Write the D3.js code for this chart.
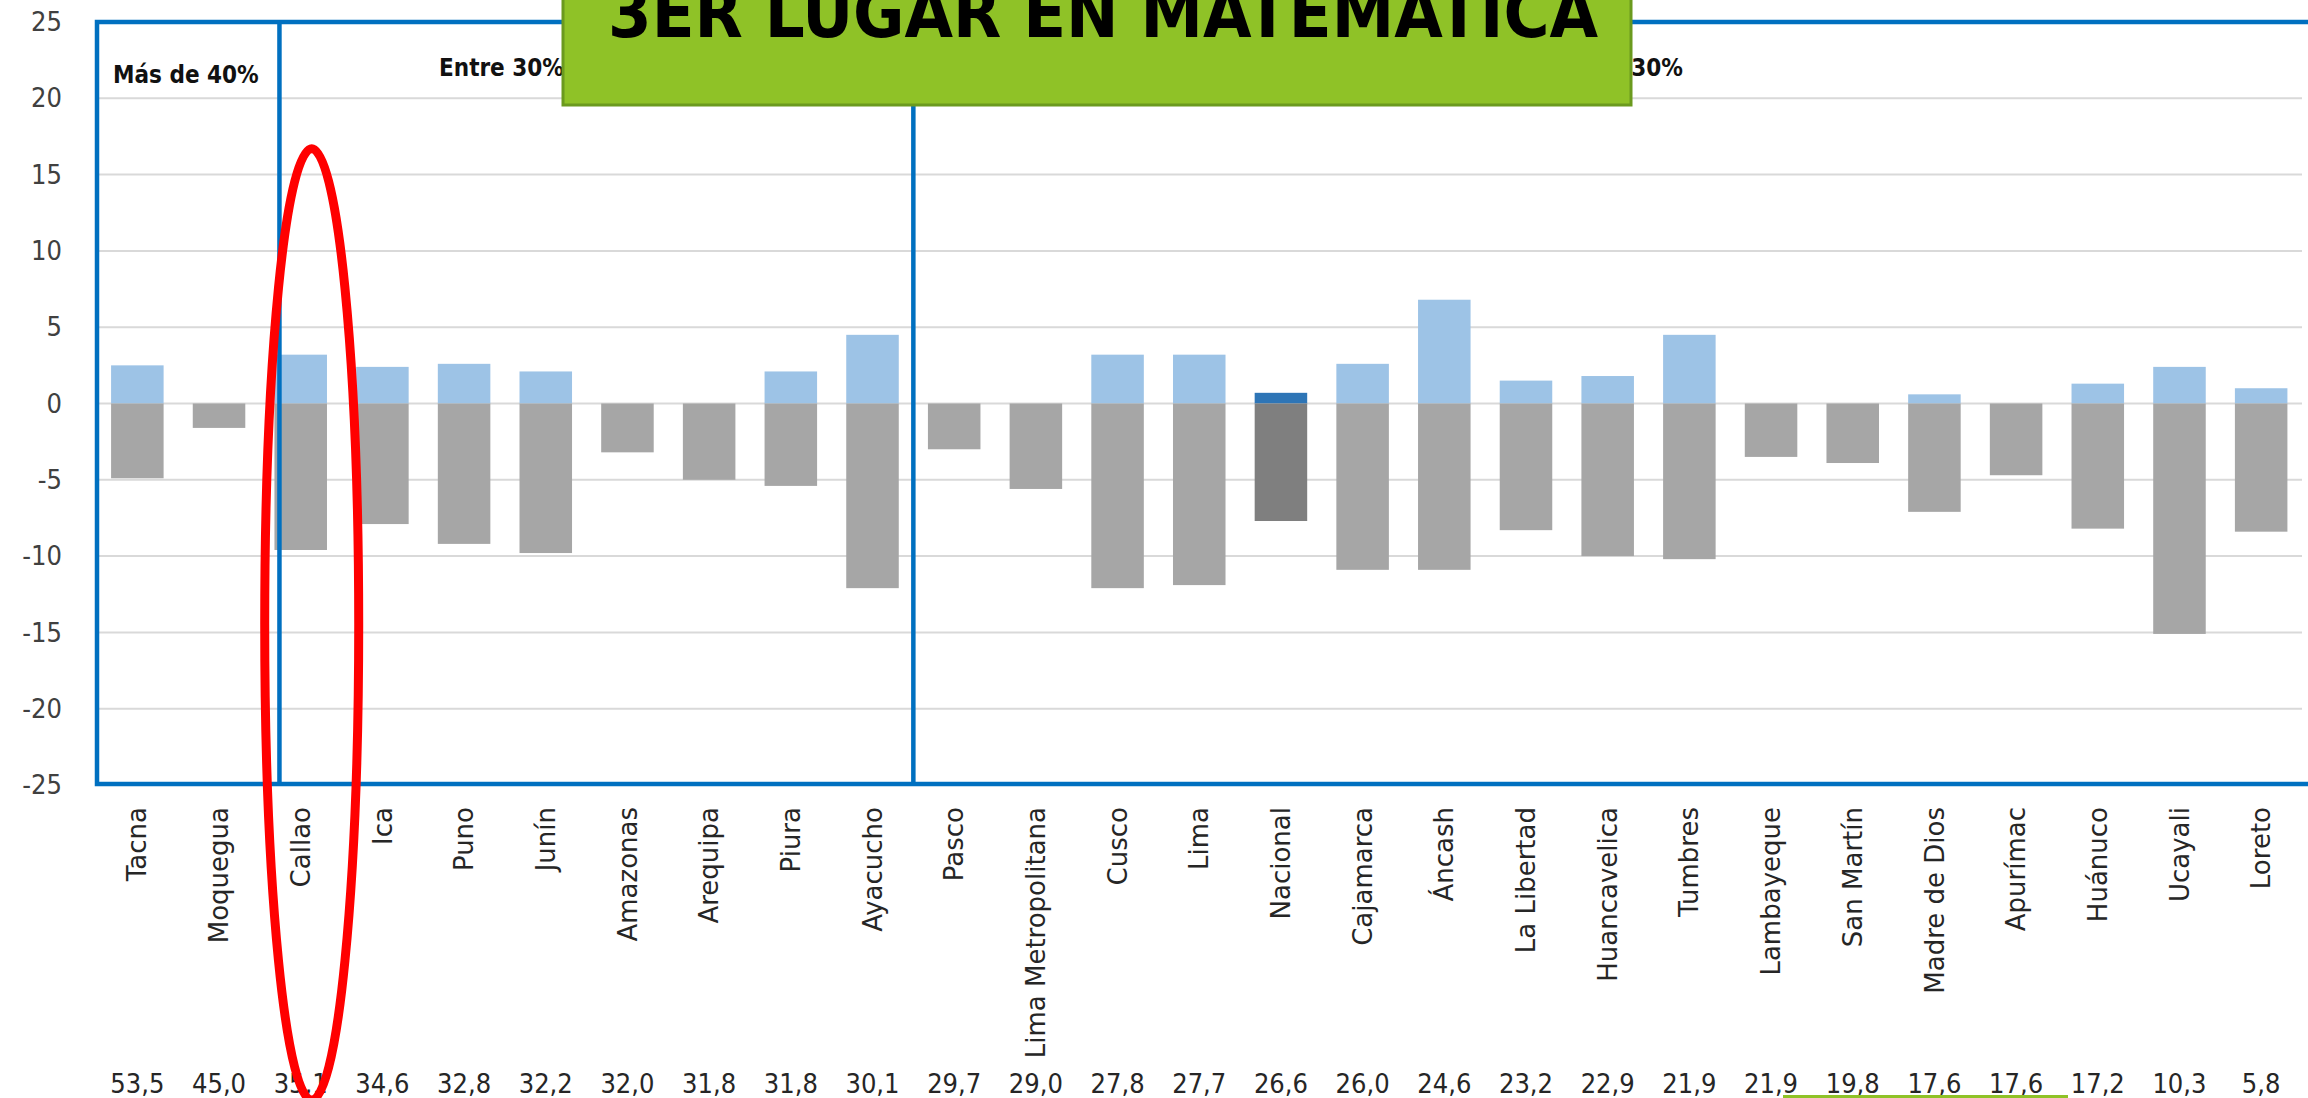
<!DOCTYPE html>
<html>
<head>
<meta charset="utf-8">
<script src="https://cdn.jsdelivr.net/npm/d3@7"></script>
<style>
  html, body { margin: 0; padding: 0; background: #fff; }
  svg { display: block; }
  .cond { font-family: "DejaVu Sans Condensed", "DejaVu Sans", sans-serif; font-stretch: condensed; }
</style>
</head>
<body>
<div id="chart"></div>
<script>
// regions in ranking order
var regions = ["Tacna", "Moquegua", "Callao", "Ica", "Puno", "Junín", "Amazonas", "Arequipa", "Piura",
    "Ayacucho", "Pasco", "Lima Metropolitana", "Cusco", "Lima", "Nacional", "Cajamarca", "Áncash",
    "La Libertad", "Huancavelica", "Tumbres", "Lambayeque", "San Martín", "Madre de Dios", "Apurímac",
    "Huánuco", "Ucayali", "Loreto"];

// change in the top level (light blue, above zero)
var upValues = [2.5, 0, 3.2, 2.4, 2.6, 2.1, 0, 0, 2.1, 4.5, 0, 0, 3.2, 3.2, 0.7, 2.6, 6.8,
    1.5, 1.8, 4.5, 0, 0, 0.6, 0, 1.3, 2.4, 1.0];

// change in the bottom level (gray, below zero)
var downValues = [-4.9, -1.6, -9.6, -7.9, -9.2, -9.8, -3.2, -5.0, -5.4, -12.1, -3.0, -5.6, -12.1,
    -11.9, -7.7, -10.9, -10.9, -8.3, -10.0, -10.2, -3.5, -3.9, -7.1, -4.7, -8.2, -15.1, -8.4];

// percentage at satisfactory level, printed under each region
var pctLabels = ["53,5", "45,0", "35,1", "34,6", "32,8", "32,2", "32,0", "31,8", "31,8", "30,1",
    "29,7", "29,0", "27,8", "27,7", "26,6", "26,0", "24,6", "23,2", "22,9", "21,9", "21,9",
    "19,8", "17,6", "17,6", "17,2", "10,3", "5,8"];

var yTicks = [25, 20, 15, 10, 5, 0, -5, -10, -15, -20, -25];
var groupLabels = ["Más de 40%", "Entre 30% y 40%", "Menos de 30%"];
var titleText = "3ER  LUGAR EN MATEMÁTICA";
var highlight = "Nacional";

var W = 2308, H = 1098;

var svg = d3.select("#chart").append("svg")
    .attr("width", W)
    .attr("height", H);

var xScale = d3.scaleBand()
    .domain(regions)
    .range([96.5, 2302])
    .paddingInner(0.357)
    .paddingOuter(0.1785);

var yScale = d3.scaleLinear()
    .domain([-25, 25])
    .range([785, 22]);

var left = 97, right = 2302;

// gridlines
svg.append("g")
    .selectAll("line")
    .data(yTicks)
    .enter().append("line")
    .attr("x1", left)
    .attr("x2", right)
    .attr("y1", function (d) { return yScale(d); })
    .attr("y2", function (d) { return yScale(d); })
    .attr("stroke", "#d9d9d9")
    .attr("stroke-width", 2);

// y axis labels (no axis line), plain hyphen for negatives
var yAxis = d3.axisLeft(yScale)
    .tickValues(yTicks)
    .tickSize(0)
    .tickPadding(0)
    .tickFormat(function (d) { return String(d); });
var yg = svg.append("g")
    .attr("transform", "translate(62,0)")
    .call(yAxis);
yg.select(".domain").remove();
yg.selectAll("text")
    .attr("class", "cond")
    .style("font-size", "27px")
    .attr("fill", "#404040");

// bars
var bw = xScale.bandwidth();
var barData = regions.map(function (r, i) {
    return {name: r, up: upValues[i], down: downValues[i]};
});

svg.append("g").selectAll("rect")
    .data(barData.filter(function (d) { return d.up > 0; }))
    .enter().append("rect")
    .attr("x", function (d) { return xScale(d.name); })
    .attr("width", bw)
    .attr("y", function (d) { return yScale(d.up); })
    .attr("height", function (d) { return yScale(0) - yScale(d.up); })
    .attr("fill", function (d) { return d.name === highlight ? "#2e75b6" : "#9dc3e6"; });

svg.append("g").selectAll("rect")
    .data(barData)
    .enter().append("rect")
    .attr("x", function (d) { return xScale(d.name); })
    .attr("width", bw)
    .attr("y", yScale(0))
    .attr("height", function (d) { return yScale(d.down) - yScale(0); })
    .attr("fill", function (d) { return d.name === highlight ? "#7f7f7f" : "#a6a6a6"; });

// blue group frames
var sep1 = xScale("Callao") + 5;
var sep2 = (xScale("Ayacucho") + bw + xScale("Pasco")) / 2;
var frame = svg.append("g")
    .attr("fill", "none")
    .attr("stroke", "#0070c0")
    .attr("stroke-width", 4.5);
frame.append("rect")
    .attr("x", left).attr("y", yScale(25))
    .attr("width", W + 20 - left).attr("height", yScale(-25) - yScale(25) - 1);
[sep1, sep2].forEach(function (sx) {
    frame.append("line")
        .attr("x1", sx).attr("x2", sx)
        .attr("y1", yScale(25)).attr("y2", yScale(-25) - 1);
});

// group labels
svg.append("text")
    .attr("class", "cond")
    .attr("x", 113).attr("y", 83)
    .style("font-size", "24px").style("font-weight", "bold")
    .attr("fill", "#111")
    .text(groupLabels[0]);
svg.append("text")
    .attr("class", "cond")
    .attr("x", 439).attr("y", 76)
    .style("font-size", "24px").style("font-weight", "bold")
    .attr("fill", "#111")
    .text(groupLabels[1]);
svg.append("text")
    .attr("class", "cond")
    .attr("x", 1683).attr("y", 76)
    .attr("text-anchor", "end")
    .style("font-size", "24px").style("font-weight", "bold")
    .attr("fill", "#111")
    .text(groupLabels[2]);

// region labels, rotated
svg.append("g").selectAll("text")
    .data(regions)
    .enter().append("text")
    .attr("transform", function (d) {
        return "translate(" + (xScale(d) + bw / 2) + ",807) rotate(-90)";
    })
    .attr("dy", "0.35em")
    .attr("text-anchor", "end")
    .style("font-family", "'DejaVu Sans', sans-serif")
    .style("font-size", "26px")
    .attr("fill", "#262626")
    .text(function (d) { return d; });

// percentages under the labels
svg.append("g").selectAll("text")
    .data(pctLabels)
    .enter().append("text")
    .attr("class", "cond")
    .attr("x", function (d, i) { return xScale(regions[i]) + bw / 2; })
    .attr("y", 1093)
    .attr("text-anchor", "middle")
    .style("font-size", "27px")
    .attr("fill", "#262626")
    .text(function (d) { return d; });

// green title banner
svg.append("rect")
    .attr("x", 563).attr("y", -10)
    .attr("width", 1068).attr("height", 115)
    .attr("fill", "#8fc227")
    .attr("stroke", "#6b9a1e")
    .attr("stroke-width", 3);
svg.append("text")
    .attr("class", "cond")
    .attr("x", 608).attr("y", 37)
    .attr("textLength", 990)
    .attr("lengthAdjust", "spacingAndGlyphs")
    .style("font-size", "70px").style("font-weight", "bold")
    .attr("fill", "#000")
    .text(titleText);

// red ellipse around Callao
var ellTop = yScale(16.7), ellBottom = 1100;
svg.append("ellipse")
    .attr("cx", xScale("Callao") + bw / 2 + 11)
    .attr("cy", (ellTop + ellBottom) / 2)
    .attr("rx", 47)
    .attr("ry", (ellBottom - ellTop) / 2)
    .attr("fill", "none")
    .attr("stroke", "#ff0000")
    .attr("stroke-width", 9);

// edge of a second banner peeking at the bottom
svg.append("rect")
    .attr("x", 1783).attr("y", 1095)
    .attr("width", 285).attr("height", 4)
    .attr("fill", "#8fc227");
</script>
</body>
</html>
